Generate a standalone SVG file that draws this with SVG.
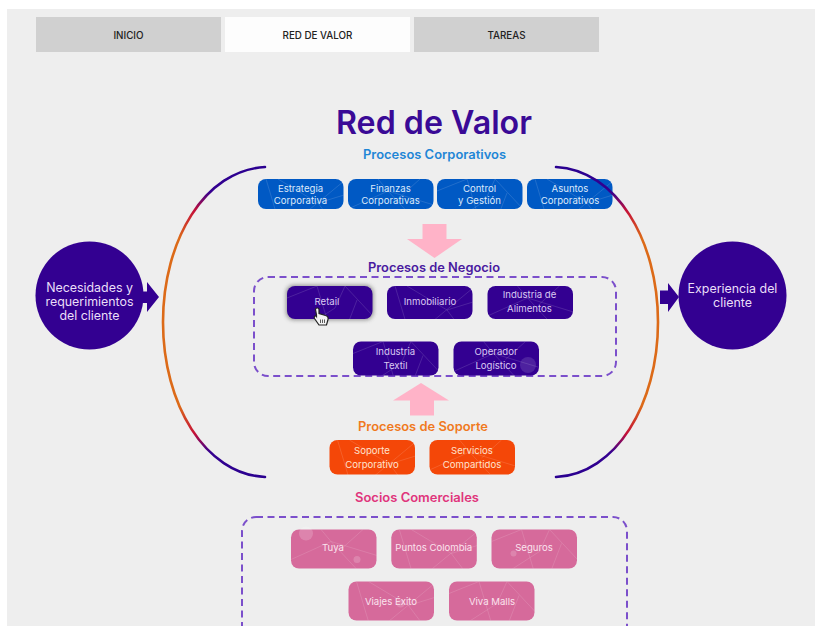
<svg xmlns="http://www.w3.org/2000/svg" width="815" height="626" viewBox="0 0 815 626">
<style>
text{font-family:"Inter","Noto Sans","Liberation Sans",sans-serif;text-anchor:middle}
.tab{font-size:9.8px;font-weight:500;fill:#222}
.h{font-size:12.6px;font-weight:600}
.l{font-size:9.6px;font-weight:400}
.c{font-size:12.4px;font-weight:400;fill:#eadff8}
.blue rect.b{fill:#0059c4}.blue text{fill:#dcE9fb}
.pur rect.b{fill:#330091}.pur text{fill:#d9c9f2}
.ora rect.b{fill:#f44708}.ora text{fill:#ffe3cf}
.pnk rect.b{fill:#d66a9b}.pnk text{fill:#fbe3ee}
.net{fill:none;stroke:#fff;stroke-width:1;opacity:.13}
.dash{fill:none;stroke:#7b4fcb;stroke-width:2;stroke-dasharray:7 4.5}
.arc{fill:none;stroke:url(#g);stroke-width:2.6;stroke-linecap:round}
</style>
<defs>
<linearGradient id="g" gradientUnits="userSpaceOnUse" x1="0" y1="167" x2="0" y2="477">
<stop offset="0" stop-color="#2a0090"/><stop offset=".08" stop-color="#350090"/><stop offset=".14" stop-color="#c41038"/><stop offset=".23" stop-color="#dc6a18"/><stop offset=".77" stop-color="#dc6a18"/><stop offset=".86" stop-color="#c41038"/><stop offset=".92" stop-color="#350090"/><stop offset="1" stop-color="#2a0090"/>
</linearGradient>
<clipPath id="c30"><rect width="85.5" height="30" rx="8"/></clipPath>
<clipPath id="c34"><rect width="85.5" height="34" rx="8"/></clipPath>
<clipPath id="c39"><rect width="85.5" height="39" rx="8"/></clipPath>
<g id="na" class="net"><path d="M0 12L30 0M30 0L42 40M58 0L86 30M58 0L48 22L20 40M70 14L60 40"/></g>
<g id="nb" class="net"><path d="M8 0L20 40M20 0L60 24L86 16M60 24L72 40M86 2L40 40"/></g>
<g id="nc" class="net"><path d="M0 30L40 12L86 26M40 12L30 0M40 12L66 40M72 0L52 18"/></g>
<filter id="s" x="-20%" y="-30%" width="140%" height="160%"><feGaussianBlur stdDeviation="2"/></filter>
</defs>
<rect width="815" height="626" fill="#fff"/>
<rect x="7" y="9" width="808" height="617" fill="#eee"/>
<g id="tab-inicio"><rect x="36" y="17" width="185" height="35" fill="#d0d0d0"/><text class="tab" x="128.5" y="38.5">INICIO</text></g>
<g id="tab-red"><rect x="225" y="17" width="185" height="35" fill="#fdfdfd"/><text class="tab" x="317.5" y="38.5">RED DE VALOR</text></g>
<g id="tab-tareas"><rect x="414" y="17" width="185" height="35" fill="#d0d0d0"/><text class="tab" x="506.5" y="38.5">TAREAS</text></g>
<text id="title" x="434" y="134" font-size="32" font-weight="600" fill="#3a0a96" textLength="196" lengthAdjust="spacingAndGlyphs">Red de Valor</text>
<text class="h" x="434.5" y="159" fill="#1f86d6" textLength="143" lengthAdjust="spacingAndGlyphs">Procesos Corporativos</text>
<text class="h" x="434" y="272" fill="#4a1aa0" textLength="132" lengthAdjust="spacingAndGlyphs">Procesos de Negocio</text>
<text class="h" x="423" y="431" fill="#f07a1e" textLength="130" lengthAdjust="spacingAndGlyphs">Procesos de Soporte</text>
<text class="h" x="417" y="502" fill="#e0357c" textLength="124" lengthAdjust="spacingAndGlyphs">Socios Comerciales</text>
<rect id="frame-negocio" class="dash" x="254" y="277" width="362" height="99" rx="14"/>
<rect id="frame-socios" class="dash" x="242" y="517" width="385" height="130" rx="14"/>
<g id="n-estrategia" class="blue" transform="translate(258,179)"><rect class="b" width="85.5" height="30" rx="8"/><use href="#nb" clip-path="url(#c30)"/><text class="l" x="42.5" y="12.5">Estrategia</text><text class="l" x="42.5" y="24.5">Corporativa</text></g>
<g id="n-finanzas" class="blue" transform="translate(348,179)"><rect class="b" width="85.5" height="30" rx="8"/><use href="#nc" clip-path="url(#c30)"/><text class="l" x="42.5" y="12.5">Finanzas</text><text class="l" x="42.5" y="24.5">Corporativas</text></g>
<g id="n-control" class="blue" transform="translate(437,179)"><rect class="b" width="85.5" height="30" rx="8"/><use href="#na" clip-path="url(#c30)"/><text class="l" x="42.5" y="12.5">Control</text><text class="l" x="42.5" y="24.5">y Gestión</text></g>
<g id="n-asuntos" class="blue" transform="translate(527,179)"><rect class="b" width="85.5" height="30" rx="8"/><use href="#nb" clip-path="url(#c30)"/><text class="l" x="43" y="12.5">Asuntos</text><text class="l" x="43" y="24.5">Corporativos</text></g>
<g id="n-retail" class="pur" transform="translate(287,286)"><rect x="-1" y="-1" width="87.5" height="35" rx="8" fill="#555" opacity=".6" filter="url(#s)"/><rect class="b" width="85.5" height="33" rx="8"/><use href="#na" clip-path="url(#c34)"/><text class="l" x="40" y="19">Retail</text></g>
<g id="n-inmobiliario" class="pur" transform="translate(387,286)"><rect class="b" width="85.5" height="33" rx="8"/><use href="#nb" clip-path="url(#c34)"/><text class="l" x="43" y="19">Inmobiliario</text></g>
<g id="n-alimentos" class="pur" transform="translate(487.500,286)"><rect class="b" width="85.5" height="33" rx="8"/><use href="#nc" clip-path="url(#c34)"/><text class="l" x="42" y="11.500">Industria de</text><text class="l" x="42" y="25.500">Alimentos</text></g>
<g id="n-textil" class="pur" transform="translate(353,341.500)"><rect class="b" width="85.5" height="34" rx="8"/><use href="#na" clip-path="url(#c34)"/><text class="l" x="42.500" y="13">Industria</text><text class="l" x="42.500" y="27">Textil</text></g>
<g id="n-operador" class="pur" transform="translate(453.500,341.500)"><rect class="b" width="85.500" height="34" rx="8"/><use href="#nc" clip-path="url(#c34)"/><circle cx="74.500" cy="23.500" r="8" fill="#fff" opacity=".13"/><text class="l" x="42.500" y="13">Operador</text><text class="l" x="42.500" y="27">Logístico</text></g>
<g id="n-soporte" class="ora" transform="translate(329.500,440)"><rect class="b" width="85.500" height="34.500" rx="8"/><use href="#nb" clip-path="url(#c39)"/><text class="l" x="42.500" y="13.500">Soporte</text><text class="l" x="42.500" y="27.500">Corporativo</text></g>
<g id="n-servicios" class="ora" transform="translate(429.500,440)"><rect class="b" width="85.500" height="34.500" rx="8"/><use href="#nc" clip-path="url(#c34)"/><text class="l" x="42.500" y="13.500">Servicios</text><text class="l" x="42.500" y="27.500">Compartidos</text></g>
<g id="n-tuya" class="pnk" transform="translate(291,529.500)"><rect class="b" width="85.500" height="39" rx="8"/><use href="#nc" clip-path="url(#c39)"/><circle cx="15" cy="4" r="7" fill="#fff" opacity=".18"/><circle cx="66" cy="30" r="3.500" fill="#fff" opacity=".18"/><text class="l" x="42" y="21.500">Tuya</text></g>
<g id="n-puntos" class="pnk" transform="translate(391.300,529.500)"><rect class="b" width="85.500" height="39" rx="8"/><use href="#nb" clip-path="url(#c39)"/><text class="l" x="42.500" y="21.500">Puntos Colombia</text></g>
<g id="n-seguros" class="pnk" transform="translate(491.500,529.500)"><rect class="b" width="85.500" height="39" rx="8"/><use href="#na" clip-path="url(#c39)"/><circle cx="22" cy="24" r="3" fill="#fff" opacity=".18"/><text class="l" x="42.500" y="21.500">Seguros</text></g>
<g id="n-viajes" class="pnk" transform="translate(348.500,581.500)"><rect class="b" width="85.500" height="39" rx="8"/><use href="#nb" clip-path="url(#c39)"/><circle cx="52" cy="22" r="4" fill="#fff" opacity=".16"/><text class="l" x="42.500" y="23">Viajes Éxito</text></g>
<g id="n-viva" class="pnk" transform="translate(449,581.500)"><rect class="b" width="85.500" height="39" rx="8"/><use href="#na" clip-path="url(#c39)"/><text class="l" x="43" y="23">Viva Malls</text></g>
<g id="connectors">
<path class="arc" d="M265 167C205 170 163 240 163 322C163 404 205 474 265 477"/>
<path class="arc" d="M556 167C616 170 658 240 658 322C658 404 616 474 556 477"/>
<path d="M143 291.500H147V282L159 297L147 312V303H143Z" fill="#330091"/>
<path d="M660 290.500H668V283L679 297L668 312V304H660Z" fill="#330091"/>
<path d="M422.500 224H446.500V239H462L434.500 258L407 239H422.500Z" fill="#ffb3c8"/>
<path d="M410 415.500V400.500H393L421 383L449 400.500H434V415.500Z" fill="#ffb3c8"/>
</g>
<g id="n-necesidades"><circle cx="89.500" cy="295.500" r="54" fill="#330091"/><text class="c" x="89.500" y="292">Necesidades y</text><text class="c" x="89.500" y="306">requerimientos</text><text class="c" x="89.500" y="320">del cliente</text></g>
<g id="n-experiencia"><circle cx="732.500" cy="295.500" r="54" fill="#330091"/><text class="c" x="732.500" y="292.500">Experiencia del</text><text class="c" x="732.500" y="306.500">cliente</text></g>
<path id="cursor" d="M315.500 309.500C315.500 307.500 319 307.500 319 309.500V313.500L325.500 315.500C327.500 316 328.500 317.500 328 319.500L326.500 325H319L314.500 318.500C313.500 316.500 315.500 315 316.500 316.500V315Z" fill="#f4f4f4" stroke="#222" stroke-width="1.200"/>
<path d="M320.500 319.500V323M322.500 319.500V323M324.500 319.500V323" stroke="#333" stroke-width=".8" fill="none"/>
</svg>
